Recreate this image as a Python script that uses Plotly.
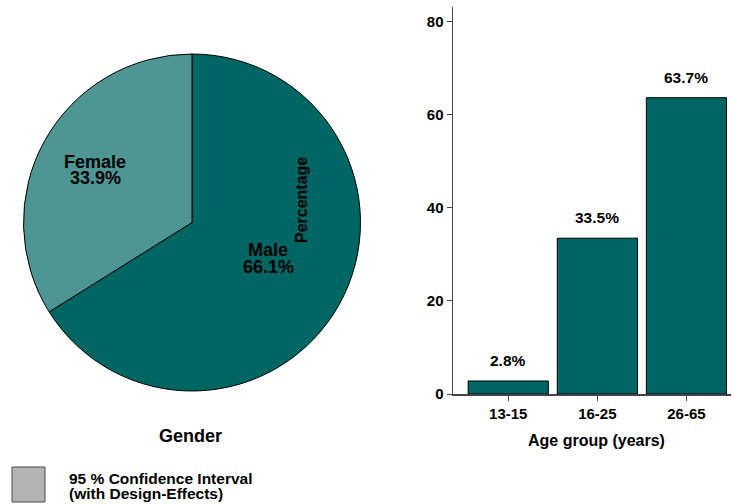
import plotly.graph_objects as go

W, H = 732, 504
LAYOUT_H = 512

# Data
gender_labels = ["Male", "Female"]
gender_values = [66.1, 33.9]
age_groups = ["13-15", "16-25", "26-65"]
age_values = [2.8, 33.5, 63.7]
y_ticks = [0, 20, 40, 60, 80]

FONT = "Liberation Sans"
TEAL = "#006664"
TEAL_LIGHT = "#4e9694"


def px_x(x):
    return x / W


def px_y(y):
    return 1 - y / H


fig = go.Figure()

fig.add_trace(go.Pie(
    labels=gender_labels,
    values=gender_values,
    sort=False,
    direction="clockwise",
    rotation=0,
    marker=dict(colors=[TEAL, TEAL_LIGHT], line=dict(color="#000000", width=1)),
    textinfo="none",
    hoverinfo="none",
    showlegend=False,
    domain=dict(x=[px_x(23), px_x(361)], y=[px_y(391), px_y(54)]),
))

fig.add_trace(go.Bar(
    x=age_groups,
    y=age_values,
    marker=dict(color=TEAL, line=dict(color="#000000", width=1)),
    width=0.9,
    showlegend=False,
    hoverinfo="none",
))

annotations = []
# pie labels
pie_pos = {"Female": (95, 162, 178), "Male": (268, 250, 267)}
for lab, val in zip(gender_labels, gender_values):
    cx, y1, y2 = pie_pos[lab]
    annotations.append(dict(x=px_x(cx), y=px_y(y1), xref="paper", yref="paper",
                            text=lab, showarrow=False, xanchor="center", yanchor="middle",
                            font=dict(family=FONT, size=18, color="#000", weight="bold")))
    annotations.append(dict(x=px_x(cx), y=px_y(y2), xref="paper", yref="paper",
                            text=f"{val}%", showarrow=False, xanchor="center", yanchor="middle",
                            font=dict(family=FONT, size=18, color="#000", weight="bold")))

# bar value labels
for cat, val in zip(age_groups, age_values):
    annotations.append(dict(x=cat, y=val, xref="x", yref="y", text=f"{val}%",
                            showarrow=False, xanchor="center", yanchor="bottom", yshift=10,
                            font=dict(family=FONT, size=15.5, color="#000", weight="bold")))

# titles
annotations += [
    dict(x=px_x(190), y=px_y(436), xref="paper", yref="paper", text="Gender", showarrow=False,
         xanchor="center", yanchor="middle", font=dict(family=FONT, size=18, color="#000", weight="bold")),
    dict(x=px_x(596), y=px_y(440), xref="paper", yref="paper", text="Age group (years)", showarrow=False,
         xanchor="center", yanchor="middle", font=dict(family=FONT, size=16, color="#000", weight="bold")),
    dict(x=px_x(302), y=px_y(200), xref="paper", yref="paper", text="Percentage", showarrow=False,
         textangle=-90, xanchor="center", yanchor="middle",
         font=dict(family=FONT, size=16, color="#000", weight="bold")),
    dict(x=px_x(67), y=px_y(478), xref="paper", yref="paper", text="95 % Confidence Interval",
         showarrow=False, xanchor="left", yanchor="middle",
         font=dict(family=FONT, size=15.5, color="#000", weight="bold")),
    dict(x=px_x(67), y=px_y(493), xref="paper", yref="paper", text="(with Design-Effects)",
         showarrow=False, xanchor="left", yanchor="middle",
         font=dict(family=FONT, size=15.5, color="#000", weight="bold")),
]

fig.add_shape(type="rect", xref="paper", yref="paper",
              x0=px_x(12), x1=px_x(45), y0=px_y(502), y1=px_y(467),
              fillcolor="#b3b3b3", line=dict(color="#4a4a4a", width=1))

fig.update_layout(
    width=W, height=LAYOUT_H, autosize=False,
    margin=dict(l=0, r=0, t=0, b=LAYOUT_H - H, pad=0),
    paper_bgcolor="white", plot_bgcolor="white",
    annotations=annotations,
    xaxis=dict(domain=[px_x(453), px_x(731)], range=[-0.62, 2.5], showgrid=False,
               showline=True, linecolor="#444444", linewidth=1.5,
               ticks="outside", ticklen=5, tickcolor="#444444",
               tickfont=dict(family=FONT, size=15, color="#000", weight="bold"),
               zeroline=False),
    yaxis=dict(domain=[px_y(394), px_y(7)], range=[0, 83.2], showgrid=False,
               showline=True, linecolor="#444444", linewidth=1.5,
               tickvals=y_ticks, ticks="outside", ticklen=5, tickcolor="#444444",
               tickfont=dict(family=FONT, size=15, color="#000", weight="bold"),
               zeroline=False),
    bargap=0.1,
)

fig.write_html("out.html",
               config={"responsive": False, "displayModeBar": False, "staticPlot": True},
               post_script="document.body.style.margin='0';document.body.style.overflow='hidden';")
